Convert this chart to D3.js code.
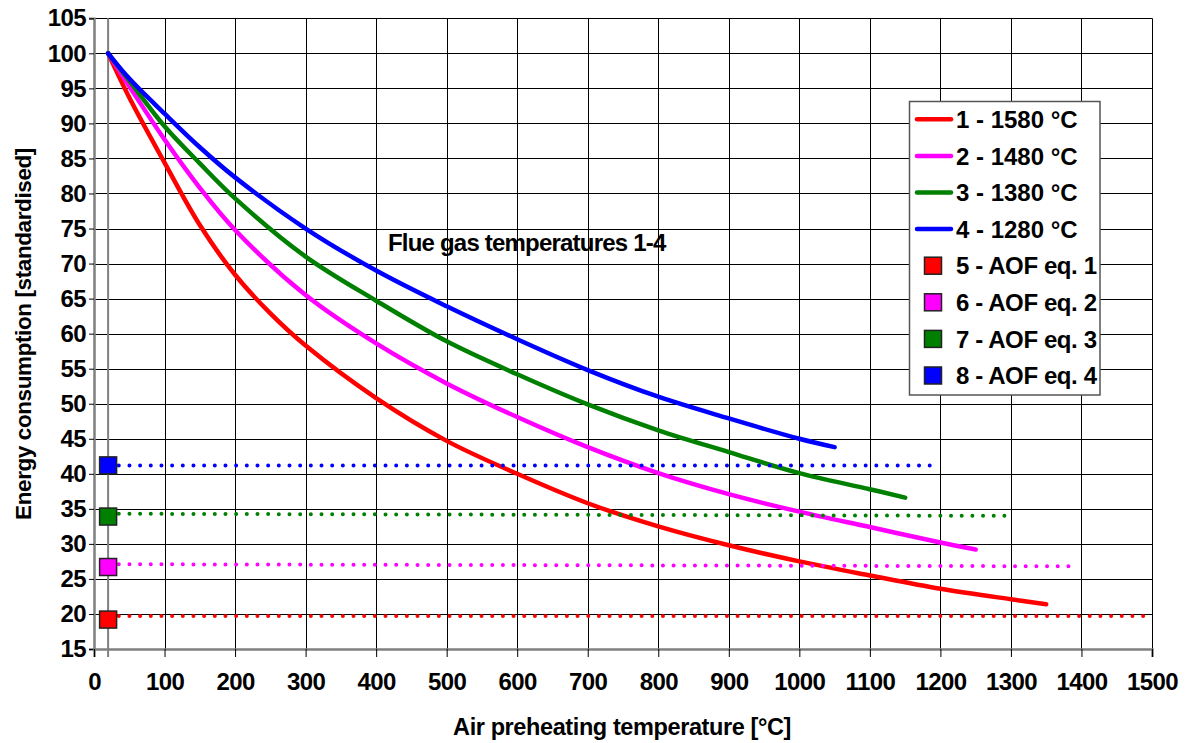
<!DOCTYPE html>
<html>
<head>
<meta charset="utf-8">
<script src="https://cdn.jsdelivr.net/npm/d3@7"></script>
<style>
  html, body { margin: 0; padding: 0; background: #fff; }
  svg { display: block; font-family: "Liberation Sans", Arial, sans-serif; }
</style>
</head>
<body>
<svg id="chart" width="1193" height="743"></svg>
<script>
// ---- data ----
const xTicks = [0, 100, 200, 300, 400, 500, 600, 700, 800, 900, 1000, 1100, 1200, 1300, 1400, 1500];
const yTicks = [15, 20, 25, 30, 35, 40, 45, 50, 55, 60, 65, 70, 75, 80, 85, 90, 95, 100, 105];

const seriesNames = ["1 - 1580 °C", "2 - 1480 °C", "3 - 1380 °C", "4 - 1280 °C"];
const markerNames = ["5 - AOF eq. 1", "6 - AOF eq. 2", "7 - AOF eq. 3", "8 - AOF eq. 4"];
const colors = ["#ff0000", "#ff00ff", "#008000", "#0000ff"];

const xRed = [20, 50, 100, 150, 200, 250, 300, 400, 500, 600, 700, 800, 900, 1000, 1100, 1200, 1300, 1350];
const yRed = [100, 93.7, 84.4, 75.5, 68.4, 62.9, 58.3, 50.8, 44.7, 40.0, 35.8, 32.5, 29.8, 27.5, 25.5, 23.6, 22.1, 21.4];

const xMagenta = [20, 50, 100, 150, 200, 300, 400, 500, 600, 700, 800, 900, 1000, 1100, 1200, 1250];
const yMagenta = [100, 95.3, 87.7, 80.8, 74.8, 65.5, 58.6, 52.9, 48.1, 43.8, 40.1, 37.1, 34.6, 32.4, 30.2, 29.2];

const xGreen = [20, 50, 100, 150, 200, 300, 400, 500, 600, 700, 800, 900, 1000, 1100, 1150];
const yGreen = [100, 96.1, 89.6, 84.3, 79.3, 71.0, 64.7, 58.9, 54.2, 49.9, 46.2, 43.1, 40.1, 37.8, 36.6];

const xBlue = [20, 50, 100, 150, 200, 300, 400, 500, 600, 700, 800, 900, 1000, 1050];
const yBlue = [100, 96.4, 91.4, 86.6, 82.3, 75.0, 69.0, 63.9, 59.2, 54.8, 51.0, 47.9, 45.0, 43.8];

// AOF reference markers (at x = 20) and dotted reference lines
const markerX = 20;
const markerY = [19.2, 26.7, 33.9, 41.2];
const refStartX = [20, 20, 20, 20];
const refEndX = [1500, 1390, 1300, 1195];
const refStartY = [19.7, 27.1, 34.3, 41.2];
const refEndY = [19.7, 26.8, 34.0, 41.2];

const verticalLineX = 20;

const curveXs = [xRed, xMagenta, xGreen, xBlue];
const curveYs = [yRed, yMagenta, yGreen, yBlue];

// ---- layout ----
const svg = d3.select("#chart");
const x = d3.scaleLinear().domain([0, 1500]).range([94, 1152]);
const y = d3.scaleLinear().domain([15, 105]).range([649, 18.3]);

// gridlines
const grid = svg.append("g").attr("class", "grid");
grid.selectAll("line.h").data(yTicks).join("line")
  .attr("x1", x(0)).attr("x2", x(1500))
  .attr("y1", d => Math.round(y(d)) + 0.5).attr("y2", d => Math.round(y(d)) + 0.5)
  .attr("stroke", "#000").attr("stroke-width", 1);
grid.selectAll("line.v").data(xTicks.filter(d => d > 0)).join("line")
  .attr("x1", d => Math.round(x(d)) + 0.5).attr("x2", d => Math.round(x(d)) + 0.5)
  .attr("y1", y(105)).attr("y2", y(15))
  .attr("stroke", "#000").attr("stroke-width", 1);

// vertical line at x = 20
svg.append("line")
  .attr("x1", x(verticalLineX)).attr("x2", x(verticalLineX))
  .attr("y1", y(105)).attr("y2", y(15) + 8)
  .attr("stroke", "#808080").attr("stroke-width", 2);

// axes
const yAxis = svg.append("g")
  .attr("transform", `translate(${x(0)},0)`)
  .call(d3.axisLeft(y).tickValues(yTicks).tickSize(5).tickPadding(3).tickFormat(d3.format("d")));
const xAxis = svg.append("g")
  .attr("transform", `translate(0,${y(15)})`)
  .call(d3.axisBottom(x).tickValues(xTicks).tickSize(8).tickPadding(16).tickFormat(d3.format("d")));

[yAxis, xAxis].forEach(a => {
  a.select(".domain").attr("stroke", "#808080").attr("stroke-width", 2.5);
  a.selectAll(".tick line").attr("stroke", "#000").attr("stroke-width", 1);
  a.selectAll(".tick text")
    .attr("fill", "#000")
    .style("font-family", "'Liberation Sans', Arial, sans-serif")
    .style("font-weight", "bold")
    .style("font-size", "24px")
    .style("letter-spacing", "-0.6px");
});

// curves
const line = d3.line().x(d => x(d[0])).y(d => y(d[1])).curve(d3.curveCatmullRom.alpha(0.5));
curveXs.forEach((xs, i) => {
  const pts = xs.map((v, j) => [v, curveYs[i][j]]);
  svg.append("path")
    .attr("d", line(pts))
    .attr("fill", "none")
    .attr("stroke", colors[i])
    .attr("stroke-width", 4.5)
    .attr("stroke-linecap", "round")
    .attr("stroke-linejoin", "round");
});

// dotted reference lines
colors.forEach((c, i) => {
  svg.append("line")
    .attr("x1", x(refStartX[i])).attr("x2", x(refEndX[i]))
    .attr("y1", y(refStartY[i])).attr("y2", y(refEndY[i]))
    .attr("stroke", c)
    .attr("stroke-width", 4)
    .attr("stroke-linecap", "round")
    .attr("stroke-dasharray", "0,10.67");
});

// square markers
colors.forEach((c, i) => {
  svg.append("rect")
    .attr("x", x(markerX) - 8.5).attr("y", y(markerY[i]) - 8.5)
    .attr("width", 17).attr("height", 17)
    .attr("fill", c)
    .attr("stroke", "#222").attr("stroke-width", 1.5);
});

// annotation
svg.append("text")
  .attr("x", 388).attr("y", 251)
  .style("font-weight", "bold").style("font-size", "24px").style("letter-spacing", "-0.8px")
  .text("Flue gas temperatures 1-4");

// axis titles
svg.append("text")
  .attr("x", 622).attr("y", 735)
  .attr("text-anchor", "middle")
  .style("font-weight", "bold").style("font-size", "23.5px").style("letter-spacing", "-0.4px")
  .text("Air preheating temperature [°C]");
svg.append("text")
  .attr("transform", "translate(31,334) rotate(-90)")
  .attr("text-anchor", "middle")
  .style("font-weight", "bold").style("font-size", "22.5px").style("letter-spacing", "-0.4px")
  .text("Energy consumption [standardised]");

// legend
const lg = svg.append("g");
lg.append("rect")
  .attr("x", 909.5).attr("y", 101.5).attr("width", 190.5).attr("height", 293.5)
  .attr("fill", "#fff").attr("stroke", "#555").attr("stroke-width", 1.5);
const rowY = i => 119.3 + i * 36.6;
seriesNames.forEach((n, i) => {
  lg.append("line")
    .attr("x1", 917).attr("x2", 951).attr("y1", rowY(i)).attr("y2", rowY(i))
    .attr("stroke", colors[i]).attr("stroke-width", 4.5).attr("stroke-linecap", "round");
  lg.append("text")
    .attr("x", 956).attr("y", rowY(i)).attr("dy", "0.36em")
    .style("font-weight", "bold").style("font-size", "24px").style("letter-spacing", "0px")
    .text(n);
});
markerNames.forEach((n, i) => {
  const yy = rowY(i + 4);
  lg.append("rect")
    .attr("x", 924.5).attr("y", yy - 8.5).attr("width", 17).attr("height", 17)
    .attr("fill", colors[i]).attr("stroke", "#222").attr("stroke-width", 1.5);
  lg.append("text")
    .attr("x", 956).attr("y", yy).attr("dy", "0.36em")
    .style("font-weight", "bold").style("font-size", "24px").style("letter-spacing", "-0.4px")
    .text(n);
});
</script>
</body>
</html>
